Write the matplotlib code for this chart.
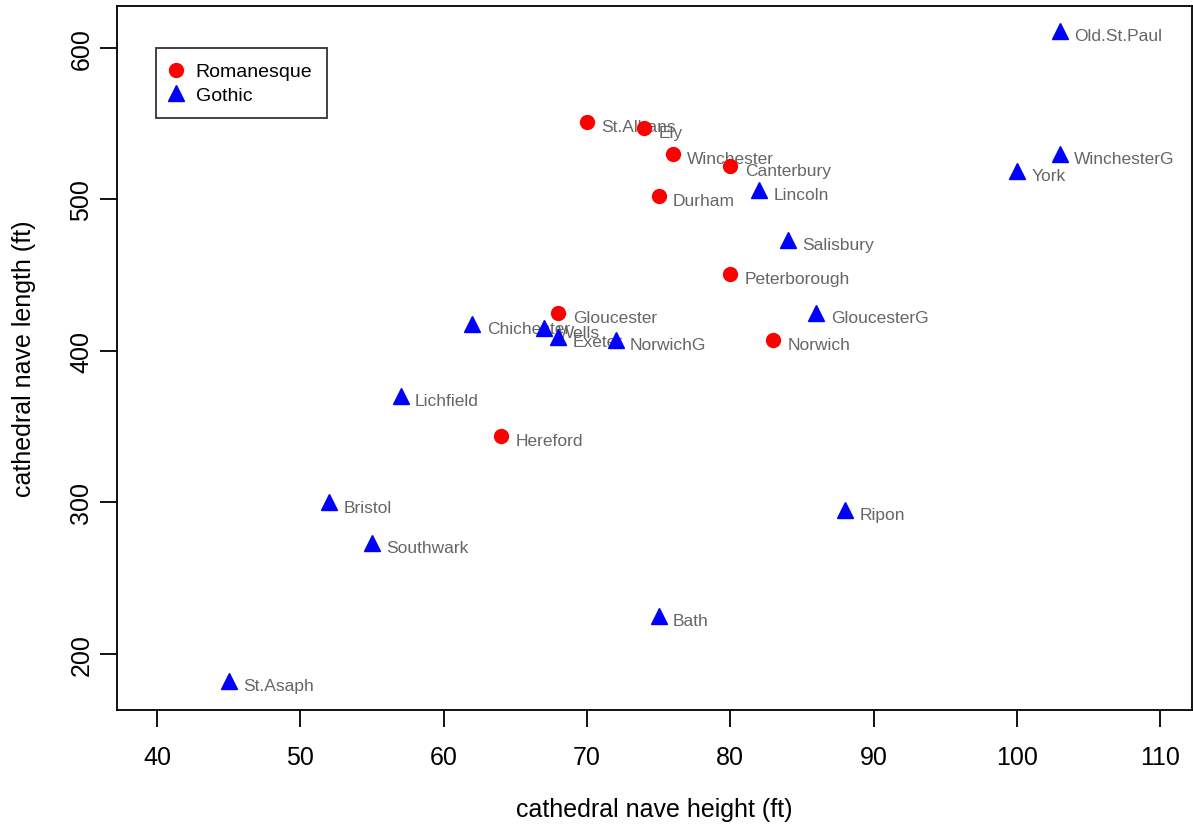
import matplotlib
matplotlib.use("Agg")
import matplotlib.pyplot as plt

plt.rcParams['font.family'] = ['Liberation Sans', 'DejaVu Sans']

rom_names = ["Durham", "Canterbury", "Gloucester", "Hereford", "Norwich",
             "Peterborough", "St.Albans", "Winchester", "Ely"]
rom_height = [75, 80, 68, 64, 83, 80, 70, 76, 74]
rom_length = [502, 522, 425, 344, 407, 451, 551, 530, 547]

goth_names = ["York", "Bath", "Bristol", "Chichester", "Exeter", "GloucesterG",
              "Lichfield", "Lincoln", "NorwichG", "Ripon", "Southwark", "Wells",
              "St.Asaph", "WinchesterG", "Old.St.Paul", "Salisbury"]
goth_height = [100, 75, 52, 62, 68, 86, 57, 82, 72, 88, 55, 67, 45, 103, 103, 84]
goth_length = [519, 225, 300, 418, 409, 425, 370, 506, 407, 295, 273, 415, 182, 530, 611, 473]

fig = plt.figure(figsize=(11.93, 8.29), dpi=100)
ax = fig.add_axes([0.0981, 0.1423, 0.9009, 0.8493])

ax.plot(rom_height, rom_length, 'o', color='#ff0000', markersize=10,
        linestyle='none', label='Romanesque', zorder=3)
ax.plot(goth_height, goth_length, '^', color='#0000ff', markersize=12,
        linestyle='none', label='Gothic', zorder=3)

for names, xs, ys in [(rom_names, rom_height, rom_length),
                      (goth_names, goth_height, goth_length)]:
    for n, x, y in zip(names, xs, ys):
        ax.text(x + 1.0, y - 3, n, fontsize=12.5, color='#666666',
                ha='left', va='center', zorder=2)

ax.set_xlim(37.2, 112.2)
ax.set_ylim(163, 627.7)
ax.set_xticks([40, 50, 60, 70, 80, 90, 100, 110])
ax.set_yticks([200, 300, 400, 500, 600])
ax.tick_params(axis='both', direction='out', length=12, width=1.3,
               labelsize=18, colors='black')
ax.tick_params(axis='x', pad=13)
ax.tick_params(axis='y', pad=5)
for lab in ax.get_yticklabels():
    lab.set_rotation(90)
    lab.set_va('center')
for s in ax.spines.values():
    s.set_linewidth(1.3)

ax.set_xlabel("cathedral nave height (ft)", fontsize=18, labelpad=20)
ax.set_ylabel("cathedral nave length (ft)", fontsize=18, labelpad=24)

leg = ax.legend(loc='upper left', bbox_to_anchor=(0.036, 0.94), fontsize=14,
                frameon=True, fancybox=False, edgecolor='black',
                borderpad=0.75, handletextpad=0.7, labelspacing=0.3,
                handlelength=0.6, borderaxespad=0)
leg.get_frame().set_linewidth(1.3)

fig.savefig("out.png", dpi=100)
